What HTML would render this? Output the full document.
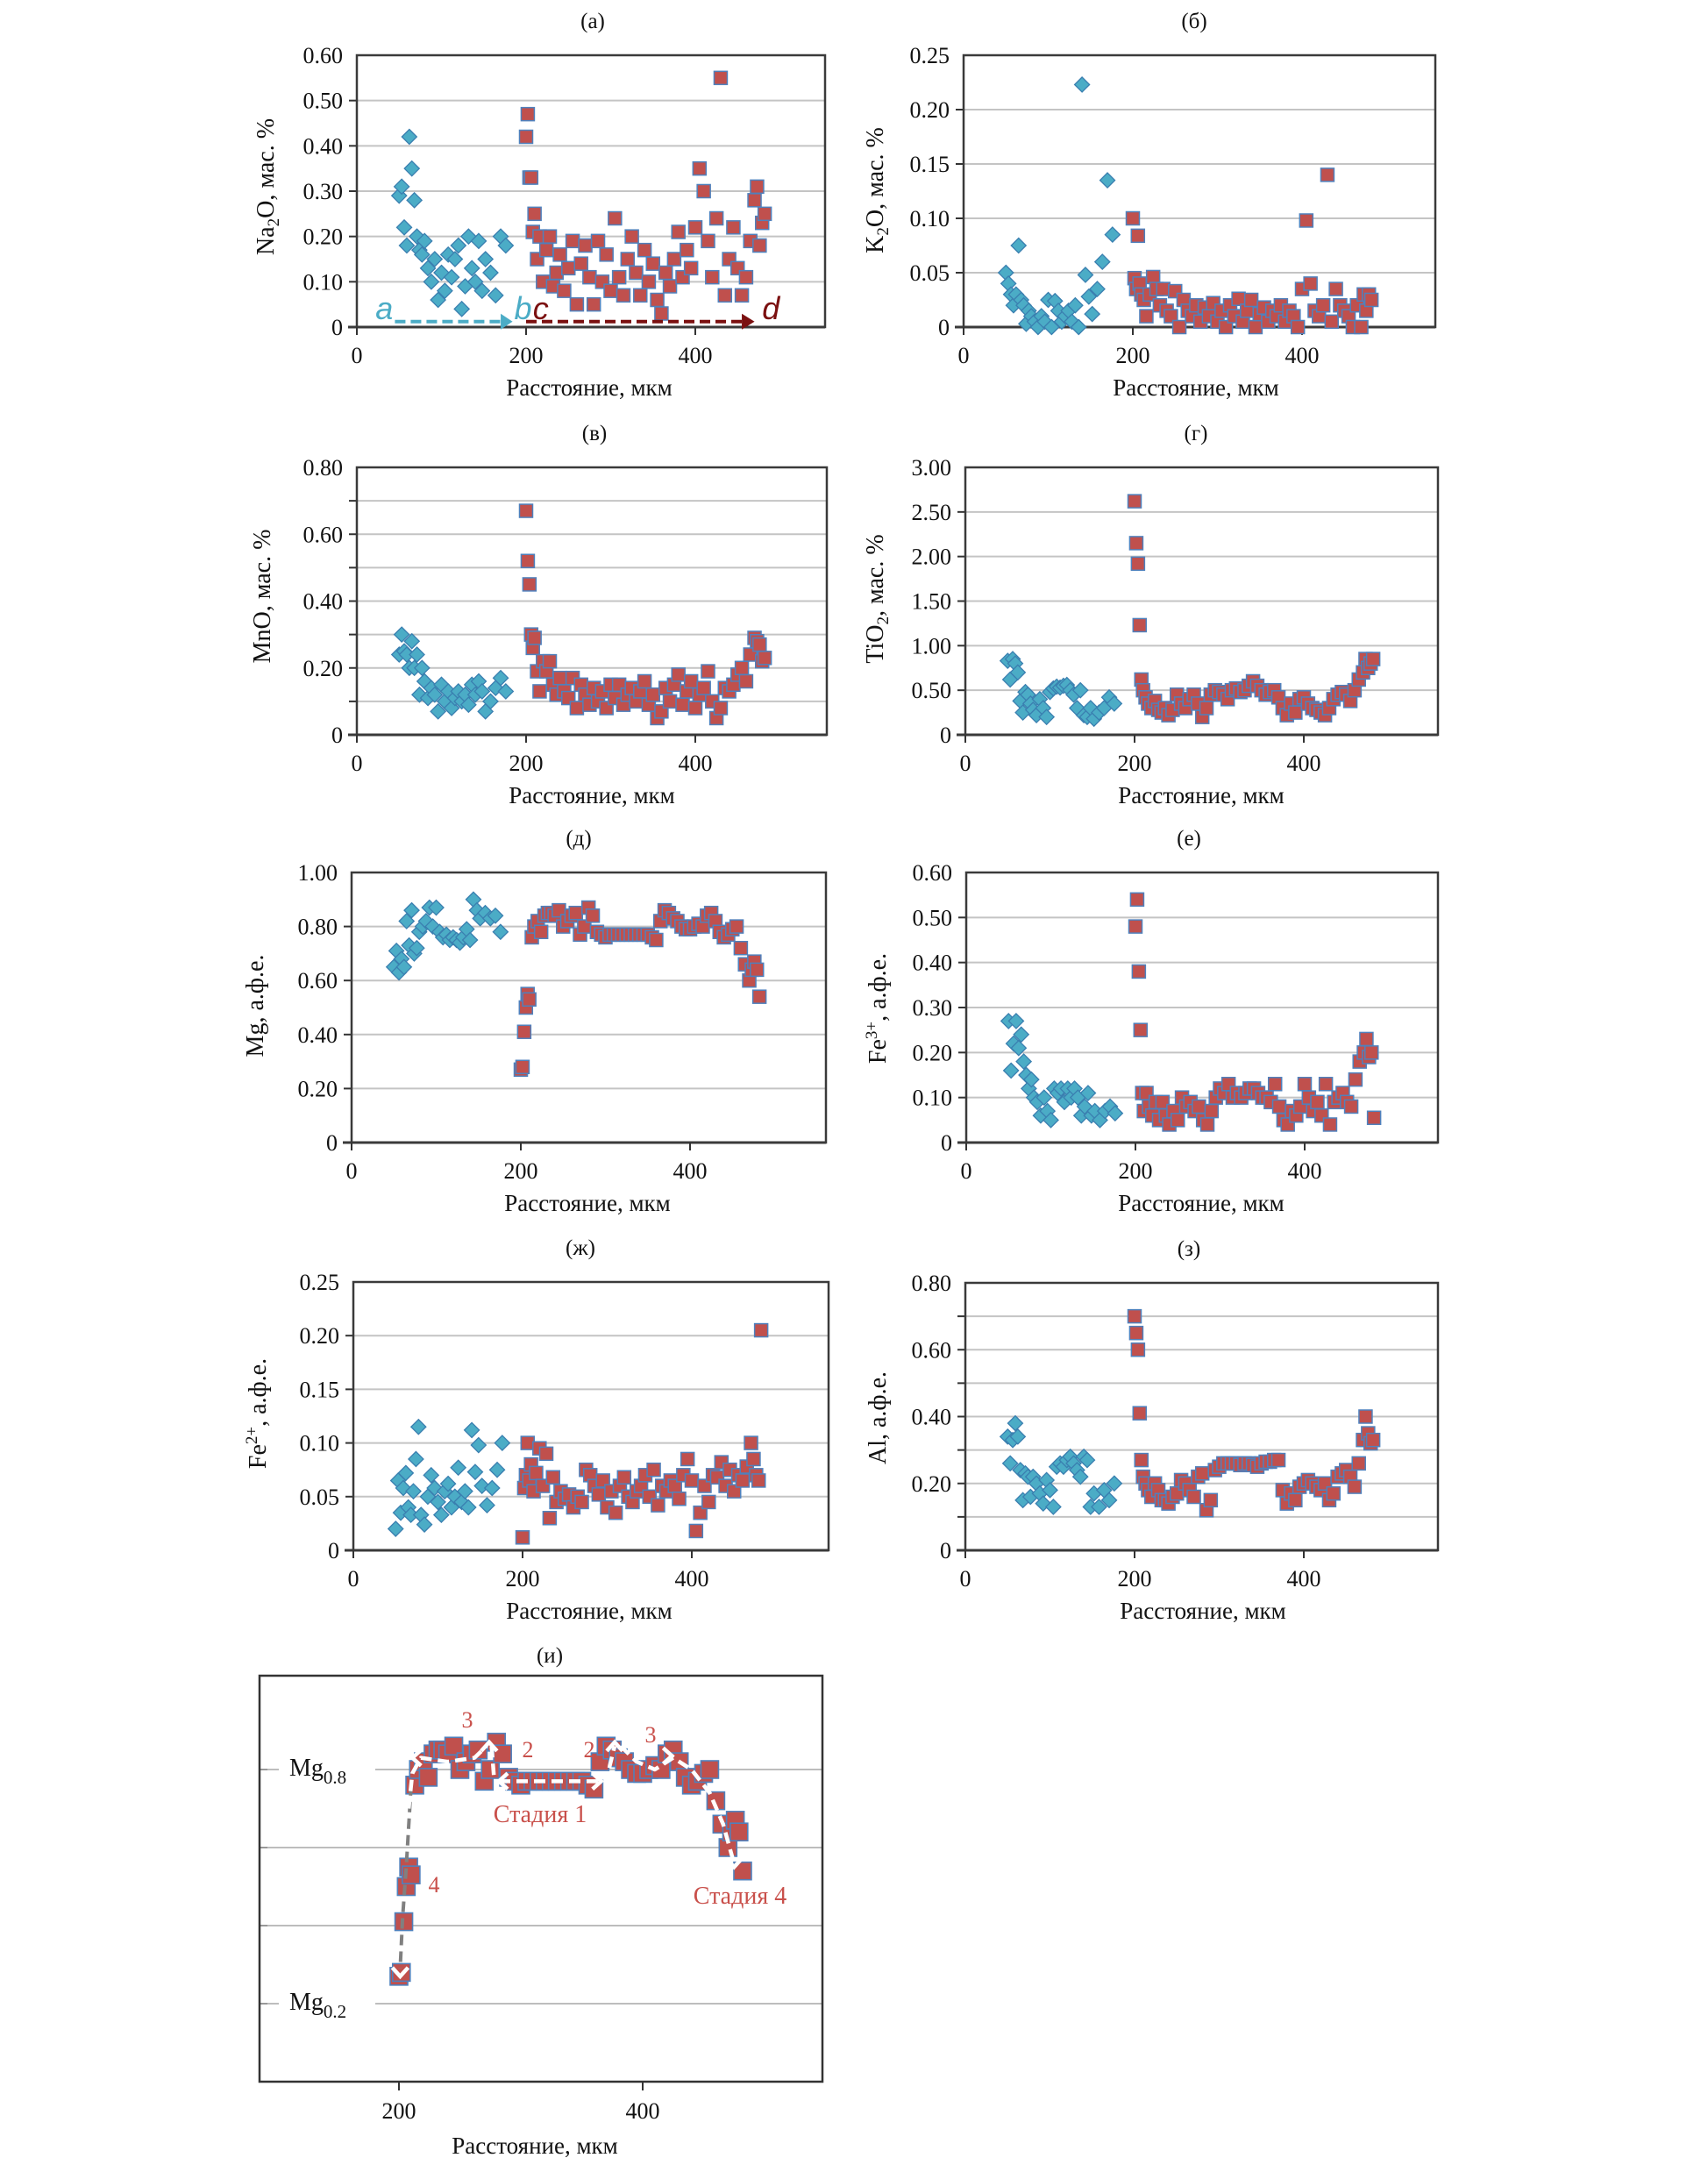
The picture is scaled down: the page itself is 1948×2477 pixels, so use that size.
<!DOCTYPE html>
<html><head><meta charset="utf-8"><style>
html,body{margin:0;padding:0;background:#fff;}
svg{display:block;}
text{font-family:"Liberation Serif","DejaVu Serif",serif;fill:#111;}
</style></head>
<body>
<svg id="fig" xmlns="http://www.w3.org/2000/svg" width="1948" height="2477" viewBox="0 0 1948 2477"></svg>
<script>
// ---- shared sample positions (distance, µm) ----
const blueX = [50,53,56,59,62,65,68,71,74,77,80,84,88,92,96,100,104,108,112,116,120,124,128,132,136,140,144,148,152,158,164,170,176];
const redX = [200,202,204,206,208,210,213,216,220,224,228,232,236,240,245,250,255,260,265,270,275,280,285,290,295,300,305,310,315,320,325,330,335,340,345,350,355,360,365,370,375,380,385,390,395,400,405,410,415,420,425,430,435,440,445,450,455,460,465,470,473,476,479,482];
const xTickValues = [0,200,400];
const xTickLabels = ["0","200","400"];

// (а) Na2O
const naBlue = [0.29,0.31,0.22,0.18,0.42,0.35,0.28,0.20,0.17,0.16,0.19,0.13,0.10,0.15,0.06,0.12,0.08,0.16,0.11,0.15,0.18,0.04,0.09,0.20,0.13,0.10,0.19,0.08,0.15,0.12,0.07,0.20,0.18];
const naRed = [0.42,0.47,0.33,0.33,0.21,0.25,0.15,0.20,0.10,0.17,0.20,0.09,0.12,0.16,0.08,0.13,0.19,0.05,0.14,0.18,0.11,0.05,0.19,0.10,0.16,0.08,0.24,0.11,0.07,0.15,0.20,0.12,0.07,0.17,0.10,0.14,0.06,0.03,0.12,0.09,0.15,0.21,0.11,0.17,0.13,0.22,0.35,0.30,0.19,0.11,0.24,0.55,0.07,0.15,0.22,0.13,0.07,0.11,0.19,0.28,0.31,0.18,0.23,0.25];
const naTicks = [0,0.1,0.2,0.3,0.4,0.5,0.6];
const naLabels = ["0","0.10","0.20","0.30","0.40","0.50","0.60"];
// (б) K2O
const kBlue = [0.05,0.04,0.03,0.02,0.03,0.075,0.025,0.02,0.003,0.015,0.01,0.005,0.0,0.01,0.005,0.025,0.0,0.024,0.015,0.005,0.01,0.015,0.005,0.02,0.0,0.223,0.048,0.028,0.012,0.035,0.06,0.135,0.085];
const kRed = [0.1,0.045,0.035,0.084,0.04,0.03,0.025,0.01,0.03,0.046,0.035,0.02,0.035,0.015,0.01,0.033,0.0,0.025,0.015,0.01,0.02,0.005,0.018,0.01,0.022,0.005,0.015,0.0,0.02,0.01,0.026,0.005,0.015,0.025,0.0,0.012,0.018,0.005,0.015,0.01,0.02,0.005,0.015,0.01,0.0,0.035,0.098,0.04,0.015,0.01,0.02,0.14,0.005,0.035,0.02,0.015,0.01,0.0,0.02,0.0,0.03,0.015,0.03,0.025];
const kTicks = [0,0.05,0.1,0.15,0.2,0.25];
const kLabels = ["0","0.05","0.10","0.15","0.20","0.25"];
// (в) MnO
const mnBlue = [0.24,0.3,0.25,0.24,0.2,0.28,0.2,0.24,0.12,0.2,0.16,0.11,0.14,0.12,0.07,0.15,0.1,0.13,0.08,0.11,0.13,0.1,0.12,0.09,0.15,0.12,0.16,0.13,0.07,0.1,0.14,0.17,0.13];
const mnRed = [0.67,0.52,0.45,0.3,0.26,0.29,0.19,0.13,0.22,0.19,0.22,0.15,0.12,0.17,0.13,0.11,0.17,0.08,0.15,0.12,0.09,0.14,0.1,0.13,0.08,0.15,0.11,0.15,0.09,0.12,0.14,0.1,0.13,0.16,0.09,0.12,0.05,0.07,0.14,0.1,0.15,0.18,0.09,0.13,0.16,0.08,0.12,0.14,0.19,0.1,0.05,0.08,0.14,0.13,0.15,0.18,0.2,0.16,0.24,0.29,0.28,0.27,0.22,0.23];
const mnTicks = [0,0.2,0.4,0.6,0.8];
const mnLabels = ["0","0.20","0.40","0.60","0.80"];
const mnGrid = [0.1,0.2,0.3,0.4,0.5,0.6,0.7];
// (г) TiO2
const tiBlue = [0.83,0.62,0.85,0.8,0.7,0.38,0.25,0.48,0.45,0.35,0.28,0.22,0.4,0.3,0.2,0.48,0.52,0.54,0.53,0.55,0.56,0.5,0.45,0.3,0.5,0.22,0.2,0.3,0.18,0.25,0.3,0.42,0.35];
const tiRed = [2.62,2.15,1.92,1.23,0.62,0.5,0.42,0.35,0.3,0.38,0.28,0.25,0.3,0.22,0.28,0.45,0.35,0.3,0.4,0.45,0.35,0.2,0.3,0.45,0.5,0.48,0.45,0.4,0.5,0.52,0.48,0.5,0.55,0.6,0.55,0.5,0.45,0.48,0.5,0.42,0.3,0.22,0.35,0.25,0.4,0.42,0.35,0.3,0.28,0.25,0.22,0.3,0.4,0.45,0.48,0.45,0.38,0.5,0.62,0.7,0.85,0.75,0.8,0.85];
const tiTicks = [0,0.5,1,1.5,2,2.5,3];
const tiLabels = ["0","0.50","1.00","1.50","2.00","2.50","3.00"];
// (д) Mg
const mgBlue = [0.65,0.71,0.63,0.68,0.65,0.82,0.73,0.86,0.7,0.72,0.78,0.8,0.82,0.87,0.8,0.87,0.78,0.76,0.77,0.75,0.76,0.75,0.74,0.76,0.79,0.75,0.9,0.86,0.83,0.85,0.83,0.84,0.78];
const mgRed = [0.27,0.28,0.41,0.5,0.55,0.53,0.76,0.8,0.82,0.78,0.84,0.85,0.85,0.84,0.86,0.8,0.82,0.84,0.85,0.77,0.8,0.87,0.84,0.78,0.77,0.76,0.77,0.77,0.77,0.77,0.77,0.77,0.77,0.77,0.77,0.77,0.76,0.75,0.82,0.86,0.85,0.83,0.82,0.8,0.79,0.79,0.8,0.81,0.8,0.84,0.85,0.82,0.78,0.76,0.77,0.79,0.8,0.72,0.66,0.6,0.64,0.67,0.64,0.54];
const mgTicks = [0,0.2,0.4,0.6,0.8,1];
const mgLabels = ["0","0.20","0.40","0.60","0.80","1.00"];
// (е) Fe3+
const fe3Blue = [0.27,0.16,0.22,0.27,0.21,0.24,0.18,0.15,0.12,0.14,0.1,0.09,0.06,0.1,0.07,0.05,0.12,0.11,0.12,0.09,0.12,0.1,0.12,0.1,0.06,0.08,0.11,0.06,0.07,0.05,0.07,0.08,0.065];
const fe3Red = [0.48,0.54,0.38,0.25,0.11,0.07,0.11,0.08,0.06,0.09,0.05,0.09,0.06,0.04,0.07,0.05,0.1,0.08,0.09,0.07,0.08,0.05,0.04,0.07,0.1,0.12,0.11,0.13,0.1,0.11,0.1,0.11,0.12,0.12,0.11,0.1,0.1,0.09,0.13,0.08,0.05,0.04,0.07,0.06,0.08,0.13,0.1,0.07,0.09,0.06,0.13,0.04,0.09,0.1,0.11,0.09,0.08,0.14,0.18,0.2,0.23,0.19,0.2,0.055];
const fe3Ticks = [0,0.1,0.2,0.3,0.4,0.5,0.6];
const fe3Labels = ["0","0.10","0.20","0.30","0.40","0.50","0.60"];
// (ж) Fe2+
const fe2Blue = [0.02,0.065,0.035,0.058,0.072,0.04,0.033,0.055,0.085,0.115,0.033,0.024,0.05,0.07,0.058,0.045,0.033,0.055,0.062,0.04,0.05,0.077,0.045,0.055,0.04,0.112,0.073,0.098,0.06,0.042,0.058,0.075,0.1];
const fe2Red = [0.012,0.058,0.07,0.1,0.065,0.08,0.055,0.072,0.095,0.06,0.09,0.03,0.068,0.045,0.055,0.048,0.052,0.04,0.05,0.045,0.075,0.07,0.06,0.052,0.065,0.04,0.055,0.035,0.06,0.068,0.05,0.045,0.055,0.06,0.07,0.05,0.075,0.042,0.06,0.055,0.065,0.06,0.048,0.07,0.085,0.065,0.018,0.035,0.06,0.045,0.07,0.068,0.082,0.06,0.075,0.055,0.07,0.065,0.078,0.1,0.085,0.07,0.065,0.205];
const fe2Ticks = [0,0.05,0.1,0.15,0.2,0.25];
const fe2Labels = ["0","0.05","0.10","0.15","0.20","0.25"];
// (з) Al
const alBlue = [0.34,0.26,0.33,0.38,0.34,0.24,0.15,0.23,0.22,0.16,0.22,0.2,0.17,0.14,0.21,0.18,0.13,0.25,0.26,0.25,0.27,0.28,0.26,0.24,0.22,0.28,0.27,0.13,0.17,0.13,0.18,0.15,0.2];
const alRed = [0.7,0.65,0.6,0.41,0.27,0.22,0.2,0.18,0.16,0.2,0.18,0.15,0.15,0.14,0.16,0.17,0.21,0.2,0.18,0.16,0.22,0.23,0.12,0.15,0.24,0.25,0.26,0.26,0.26,0.26,0.255,0.26,0.26,0.255,0.25,0.26,0.265,0.265,0.27,0.27,0.18,0.14,0.17,0.15,0.19,0.2,0.21,0.2,0.19,0.18,0.2,0.15,0.17,0.22,0.23,0.24,0.22,0.19,0.26,0.33,0.4,0.35,0.32,0.33];
const alTicks = [0,0.2,0.4,0.6,0.8];
const alLabels = ["0","0.20","0.40","0.60","0.80"];
const alGrid = [0.1,0.2,0.3,0.4,0.5,0.6,0.7];
// (и) Mg detail
const detailGrid = [0.2,0.4,0.6,0.8];
const detailTickLabels = ["0.2","0.8"];
const detailTickValues = [0.2,0.8];
const grayPath = [[210,0.76],[206,0.55],[203,0.42],[201,0.29]];
const whitePathA = [[208,0.7],[211,0.79],[218,0.83],[240,0.82],[262,0.83],[272,0.86]];
const whitePathB = [[276,0.86],[278,0.78]];
const whitePathC = [[282,0.77],[366,0.77]];
const whitePathD = [[370,0.76],[373,0.81],[377,0.86]];
const whitePathE = [[382,0.86],[395,0.82],[410,0.8],[425,0.83],[440,0.8],[455,0.74],[466,0.66],[474,0.57]];

const NS = "http://www.w3.org/2000/svg";
const svg = document.getElementById('fig');
function mk(tag, attrs, parent){
  const e = document.createElementNS(NS, tag);
  for (const k in attrs) e.setAttribute(k, attrs[k]);
  (parent||svg).appendChild(e);
  return e;
}

function panel(cfg){
  const g = mk('g', {});
  
  
  const L=cfg.L,R=cfg.R,T=cfg.T,B=cfg.B;
  const sx = v => L + v*cfg.kx;
  const sy = v => B - (v - cfg.ymin)/(cfg.ymax-cfg.ymin)*(B-T);
  cfg.sx = sx; cfg.sy = sy;
  const tt = mk('text', {x:cfg.titleX, y:T-31, 'text-anchor':'middle', 'font-size':25}, g);
  tt.textContent = cfg.title;
  
  
  const gridVals = cfg.grid || cfg.ticks;
  gridVals.forEach(v=>{
    if (v<=cfg.ymin || v>=cfg.ymax) return;
    const ln = mk('line', {x1:L, x2:R, y1:sy(v), y2:sy(v), stroke:'#c4c4c4', 'stroke-width':2}, g);
    
    
    const tk = mk('line', {x1:L-9, x2:L, y1:sy(v), y2:sy(v), stroke:'#333', 'stroke-width':2}, g);
    
    
  });
  cfg.ticks.forEach((v,i)=>{
    const t = mk('text', {x:L-16, y:sy(v)+9, 'text-anchor':'end', 'font-size':26}, g);
    t.textContent = cfg.labels[i];
    
    
  });
  const fr = mk('rect', {x:L, y:T, width:R-L, height:B-T, fill:'none', stroke:'#3a3a3a', 'stroke-width':2.5}, g);
  
  
  const xa = mk('line', {x1:L-10, x2:R, y1:B, y2:B, stroke:'#3a3a3a', 'stroke-width':3}, g);
  
  
  cfg.xticks.forEach((v,i)=>{
    const tk = mk('line', {x1:sx(v), x2:sx(v), y1:B, y2:B+9, stroke:'#333', 'stroke-width':2}, g);
    
    
    const t = mk('text', {x:sx(v), y:B+41, 'text-anchor':'middle', 'font-size':26}, g);
    t.textContent = cfg.xlabels[i];
    
    
  });
  const xt = mk('text', {x:cfg.xTitleX, y:B+78, 'text-anchor':'middle', 'font-size':27}, g);
  xt.textContent = 'Расстояние, мкм';
  
  
  if (cfg.ytitle){
    const yt = mk('text', {transform:`translate(${cfg.ytX},${cfg.ytY}) rotate(-90)`, 'text-anchor':'middle', 'font-size':28}, g);
    yt.innerHTML = cfg.ytitle;
    
    
  }
  if (cfg.blue){
    const sg = mk('g', {}, g);
    
    
    cfg.blue.forEach((v,i)=>{
      const cx = sx(blueX[i]), cy = sy(v), h=8.5;
      const p = mk('polygon', {points:`${cx},${cy-h} ${cx+h},${cy} ${cx},${cy+h} ${cx-h},${cy}`, fill:'#4bacc6', stroke:'#3a7fb0', 'stroke-width':1.3}, sg);
      
      
    });
  }
  if (cfg.red){
    const sg = mk('g', {}, g);
    
    
    const s = cfg.sq || 15;
    cfg.red.forEach((v,i)=>{
      const cx = sx(redX[i]), cy = sy(v);
      const p = mk('rect', {x:cx-s/2, y:cy-s/2, width:s, height:s, fill:'#c0504d', stroke:'#4f81bd', 'stroke-width':1.5}, sg);
      
      
    });
  }
  return cfg;
}

const kx = 0.965;
const A = panel({name:'panel-a-na2o', title:'(а)', L:407,R:941,T:63,B:373, kx, ymin:0,ymax:0.6, ticks:naTicks, labels:naLabels, xticks:xTickValues, xlabels:xTickLabels, titleX:676, xTitleX:672, ytX:312, ytY:213, ytitle:'Na<tspan font-size="19" dy="6">2</tspan><tspan dy="-6">O, мас. %</tspan>', blue:naBlue, red:naRed});
panel({name:'panel-b-k2o', title:'(б)', L:1099,R:1637,T:63,B:373, kx, ymin:0,ymax:0.25, ticks:kTicks, labels:kLabels, xticks:xTickValues, xlabels:xTickLabels, titleX:1362, xTitleX:1364, ytX:1007, ytY:217, ytitle:'K<tspan font-size="19" dy="6">2</tspan><tspan dy="-6">O, мас. %</tspan>', blue:kBlue, red:kRed});
panel({name:'panel-v-mno', title:'(в)', L:407,R:943,T:533,B:838, kx, ymin:0,ymax:0.8, ticks:mnTicks, labels:mnLabels, grid:mnGrid, xticks:xTickValues, xlabels:xTickLabels, titleX:678, xTitleX:675, ytX:308, ytY:680, ytitle:'MnO, мас. %', blue:mnBlue, red:mnRed});
panel({name:'panel-g-tio2', title:'(г)', L:1101,R:1640,T:533,B:838, kx, ymin:0,ymax:3, ticks:tiTicks, labels:tiLabels, xticks:xTickValues, xlabels:xTickLabels, titleX:1364, xTitleX:1370, ytX:1007, ytY:683, ytitle:'TiO<tspan font-size="19" dy="6">2</tspan><tspan dy="-6">, мас. %</tspan>', blue:tiBlue, red:tiRed});
panel({name:'panel-d-mg', title:'(д)', L:401,R:942,T:995,B:1303, kx, ymin:0,ymax:1, ticks:mgTicks, labels:mgLabels, xticks:xTickValues, xlabels:xTickLabels, titleX:660, xTitleX:670, ytX:300, ytY:1147, ytitle:'Mg, а.ф.е.', blue:mgBlue, red:mgRed});
panel({name:'panel-e-fe3', title:'(е)', L:1102,R:1640,T:995,B:1303, kx, ymin:0,ymax:0.6, ticks:fe3Ticks, labels:fe3Labels, xticks:xTickValues, xlabels:xTickLabels, titleX:1356, xTitleX:1370, ytX:1010, ytY:1150, ytitle:'Fe<tspan font-size="19" dy="-10">3+</tspan><tspan dy="10">, а.ф.е.</tspan>', blue:fe3Blue, red:fe3Red});
panel({name:'panel-zh-fe2', title:'(ж)', L:403,R:945,T:1462,B:1768, kx, ymin:0,ymax:0.25, ticks:fe2Ticks, labels:fe2Labels, xticks:xTickValues, xlabels:xTickLabels, titleX:662, xTitleX:672, ytX:303, ytY:1612, ytitle:'Fe<tspan font-size="19" dy="-10">2+</tspan><tspan dy="10">, а.ф.е.</tspan>', blue:fe2Blue, red:fe2Red});
panel({name:'panel-z-al', title:'(з)', L:1101,R:1640,T:1463,B:1768, kx, ymin:0,ymax:0.8, ticks:alTicks, labels:alLabels, grid:alGrid, xticks:xTickValues, xlabels:xTickLabels, titleX:1356, xTitleX:1372, ytX:1010, ytY:1617, ytitle:'Al, а.ф.е.', blue:alBlue, red:alRed});

// (а) annotation arrows a→b, c→d
(function(){
  const g = mk('g', {});
  
  
  const y = A.sy(0.012);
  const l1 = mk('line', {x1:A.sx(45), x2:A.sx(170), y1:y, y2:y, stroke:'#4bacc6', 'stroke-width':4, 'stroke-dasharray':'12,6'}, g);
  
  
  const h1 = mk('polygon', {points:`${A.sx(170)},${y-9} ${A.sx(184)},${y} ${A.sx(170)},${y+9}`, fill:'#4bacc6'}, g);
  
  
  const l2 = mk('line', {x1:A.sx(200), x2:A.sx(455), y1:y, y2:y, stroke:'#7b1010', 'stroke-width':4, 'stroke-dasharray':'12,6'}, g);
  
  
  const h2 = mk('polygon', {points:`${A.sx(455)},${y-9} ${A.sx(470)},${y} ${A.sx(455)},${y+9}`, fill:'#7b1010'}, g);
  
  
  [['a',22,'#4bacc6'],['b',186,'#4bacc6'],['c',208,'#7b1010'],['d',479,'#7b1010']].forEach(([s,xv,c])=>{
    const t = mk('text', {x:A.sx(xv), y:y-3, 'font-size':36, 'font-style':'italic', fill:c, style:'font-family:"Liberation Sans",sans-serif;fill:'+c}, g);
    t.textContent = s;
    
    
  });
})();

// (и) detail panel
(function(){
  const L=296,R=938,T=1911,B=2374;
  const kxi = 1.39, x0 = 455;
  const sx = v => x0 + (v-200)*kxi;
  const sy = v => B - v*445;
  const g = mk('g', {});
  
  
  const tt = mk('text', {x:627, y:1896, 'text-anchor':'middle', 'font-size':25}, g);
  tt.textContent = '(и)';
  
  
  detailGrid.forEach(v=>{
    const ln = mk('line', {x1:L, x2:R, y1:sy(v), y2:sy(v), stroke:'#bdbdbd', 'stroke-width':2}, g);
    
    
    const tk = mk('line', {x1:L, x2:L+9, y1:sy(v), y2:sy(v), stroke:'#999', 'stroke-width':2}, g);
    
    
  });
  detailTickValues.forEach((v,i)=>{
    const bg = mk('rect', {x:318, y:sy(v)-24, width:110, height:48, fill:'#fff'}, g);
    
    
    const t = mk('text', {x:330, y:sy(v)+7, 'font-size':28}, g);
    t.innerHTML = 'Mg<tspan font-size="21" dy="9">'+detailTickLabels[i]+'</tspan>';
    
    
  });
  const fr = mk('rect', {x:L, y:T, width:R-L, height:B-T, fill:'none', stroke:'#333', 'stroke-width':2.5}, g);
  
  
  [200,400].forEach(v=>{
    const tk = mk('line', {x1:sx(v), x2:sx(v), y1:B, y2:B+10, stroke:'#333', 'stroke-width':2}, g);
    
    
    const t = mk('text', {x:sx(v), y:B+42, 'text-anchor':'middle', 'font-size':26}, g);
    t.textContent = String(v);
    
    
  });
  const xt = mk('text', {x:610, y:B+82, 'text-anchor':'middle', 'font-size':27}, g);
  xt.textContent = 'Расстояние, мкм';
  
  
  const sg = mk('g', {}, g);
  
  
  mgRed.forEach((v,i)=>{
    const cx = sx(redX[i]), cy = sy(v);
    const p = mk('rect', {x:cx-10, y:cy-10, width:20, height:20, fill:'#c0504d', stroke:'#4f81bd', 'stroke-width':1.6}, sg);
    
    
  });
  const pstr = arr => arr.map((p,i)=>(i?'L':'M')+sx(p[0])+','+sy(p[1])).join(' ');
  const gp = mk('path', {d:pstr(grayPath), fill:'none', stroke:'#808080', 'stroke-width':4, 'stroke-dasharray':'12,7'}, g);
  
  
  [whitePathA,whitePathB,whitePathC,whitePathD,whitePathE].forEach(arr=>{
    const p = mk('path', {d:pstr(arr), fill:'none', stroke:'#fff', 'stroke-width':4.5, 'stroke-dasharray':'13,7', 'stroke-linejoin':'round'}, g);
    
    
  });
  const chev = (x,y,dir)=>{
    const d = {up:`M${x-9},${y+10} L${x},${y} L${x+9},${y+10}`, down:`M${x-9},${y-10} L${x},${y} L${x+9},${y-10}`, left:`M${x+10},${y-9} L${x},${y} L${x+10},${y+9}`, right:`M${x-10},${y-9} L${x},${y} L${x-10},${y+9}`}[dir];
    const p = mk('path', {d, fill:'none', stroke:'#fff', 'stroke-width':4.5}, g);
    
    
  };
  chev(sx(211), sy(0.83), 'left');
  chev(sx(274), sy(0.87), 'up');
  chev(sx(282), sy(0.77), 'left');
  chev(sx(366), sy(0.77), 'right');
  chev(sx(377), sy(0.87), 'up');
  chev(sx(424), sy(0.835), 'right');
  chev(sx(475), sy(0.55), 'down');
  chev(sx(201), sy(0.27), 'down');
  const lab = (s,x,y,fs)=>{
    const t = mk('text', {x, y, 'font-size':fs, 'text-anchor':'middle', style:'fill:#c9504b'}, g);
    t.textContent = s;
    
    
  };
  lab('3', 533, 1970, 26);
  lab('2', 602, 2004, 26);
  lab('2', 672, 2004, 26);
  lab('3', 742, 1987, 26);
  lab('Стадия 1', 616, 2078, 28);
  lab('4', 495, 2158, 26);
  lab('Стадия 4', 844, 2171, 28);
})();
</script>
</body></html>
